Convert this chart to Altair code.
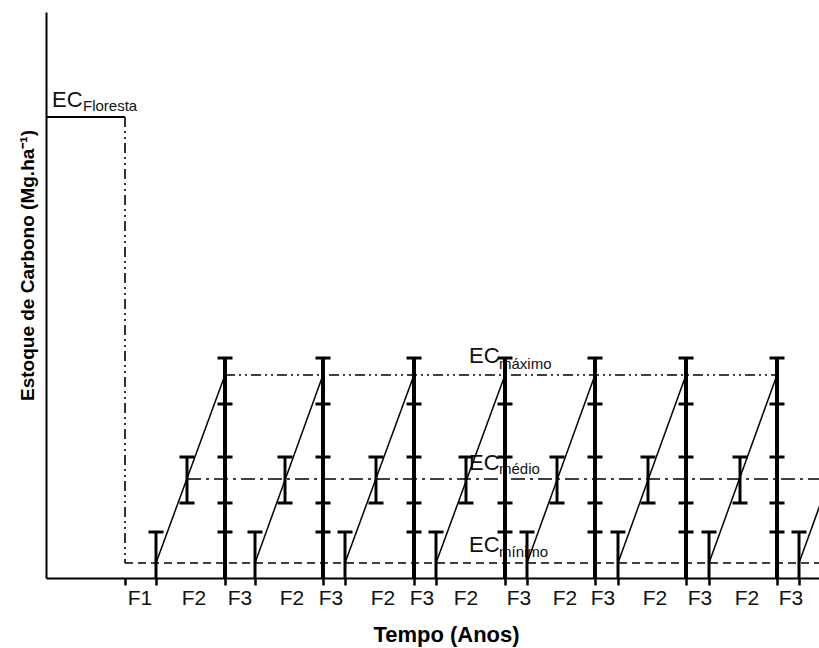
import altair as alt
import pandas as pd

# ---- values (time units on x, carbon-stock units on y)
X_MAX = 773
Y_MAX = 566
F1_X = 79
cycle_start = [110, 209, 299, 390, 481, 572, 663, 753]
cycle_peak = [179, 277, 368, 459, 549, 640, 731, 821]   # last peak lies beyond the view
f2_x = [141, 239, 330, 420, 511, 602, 694]
EC_FLORESTA = 461
EC_MAX = 203
EC_MEDIO = 99
EC_MIN = 15
err_min = [0, 46]
err_medio = [75, 121]
err_max = [174, 220]
axis_ticks = [79, 110, 179, 209, 277, 299, 368, 390, 459, 481, 549, 572, 640, 663, 731, 753]
x_label_pos = [94, 148, 194, 246, 285, 337, 376, 420, 473, 519, 557, 609, 654, 701, 745]
x_label_txt = ["F1", "F2", "F3", "F2", "F3", "F2", "F3", "F2", "F3",
               "F2", "F3", "F2", "F3", "F2", "F3"]
ec_main_x = [6, 423, 423, 423]
ec_main_y = [471, 215, 108, 26]
ec_sub_x = [37, 453, 453, 453]
ec_sub_y = [467, 209, 104, 21]
ec_sub_txt = ["Floresta", "máximo", "médio", "mínimo"]

FONT = "Liberation Sans"
INK = "#111111"

xs = alt.Scale(domain=[0, X_MAX], nice=False, zero=False)
ys = alt.Scale(domain=[0, Y_MAX], nice=False, zero=False)
xaxis = alt.Axis(values=axis_ticks, labels=False, tickSize=7, tickWidth=2.5, tickColor="black",
                 domainColor="black", domainWidth=2, grid=False,
                 title="Tempo (Anos)", titleFont=FONT, titleFontSize=22, titleFontWeight="bold",
                 titleColor="black", titleX=400, titleY=63, titleAlign="center",
                 titleBaseline="alphabetic")
yaxis = alt.Axis(ticks=False, labels=False, grid=False, domainColor="black", domainWidth=2,
                 title="Estoque de Carbono (Mg.ha⁻¹)", titleFont=FONT,
                 titleFontSize=19, titleFontWeight="bold", titleColor="black",
                 titleAngle=270, titleX=-13, titleY=253, titleAlign="center",
                 titleBaseline="alphabetic")


def X(f):
    return alt.X(f, type="quantitative", scale=xs, axis=xaxis)


def Y(f):
    return alt.Y(f, type="quantitative", scale=ys, axis=yaxis)


# ---- tables
ec_main = pd.DataFrame({"x": ec_main_x, "y": ec_main_y, "t": ["EC"] * 4})
ec_sub = pd.DataFrame({"x": ec_sub_x, "y": ec_sub_y, "t": ec_sub_txt})

levels = pd.DataFrame({
    "x": [0, F1_X, F1_X, f2_x[0], cycle_peak[0]],
    "x2": [F1_X, F1_X, X_MAX, X_MAX, cycle_peak[6]],
    "y": [EC_FLORESTA, EC_FLORESTA, EC_MIN, EC_MEDIO, EC_MAX],
    "y2": [EC_FLORESTA, EC_MIN, EC_MIN, EC_MEDIO, EC_MAX],
    "k": ["floresta", "queda", "min", "medio", "max"],
})

cycles = pd.DataFrame({"x": cycle_start, "x2": cycle_peak,
                       "y": [EC_MIN] * len(cycle_start), "y2": [EC_MAX] * len(cycle_start)})

vis_peaks = [p for p in cycle_peak if p <= X_MAX]
peaks = pd.DataFrame({"x": vis_peaks, "y": [err_min[0]] * len(vis_peaks),
                      "y2": [err_max[1]] * len(vis_peaks)})
starts = pd.DataFrame({"x": cycle_start, "y": [err_min[0]] * len(cycle_start),
                       "y2": [err_min[1]] * len(cycle_start)})
mids = pd.DataFrame({"x": f2_x, "y": [err_medio[0]] * len(f2_x),
                     "y2": [err_medio[1]] * len(f2_x)})

cap_rows = []
for p in vis_peaks:
    for v in [err_max[1], err_max[0], err_medio[1], err_medio[0], err_min[1]]:
        cap_rows.append({"x": p, "y": v})
for s in cycle_start:
    cap_rows.append({"x": s, "y": err_min[1]})
for m in f2_x:
    for v in err_medio:
        cap_rows.append({"x": m, "y": v})
caps = pd.DataFrame(cap_rows)

xlab = pd.DataFrame({"x": x_label_pos, "y": [0] * len(x_label_pos), "t": x_label_txt})

# ---- layers
t_main = alt.Chart(ec_main).mark_text(font=FONT, fontSize=22, color=INK, align="left",
                                      baseline="alphabetic").encode(x=X("x"), y=Y("y"), text="t:N")
t_sub = alt.Chart(ec_sub).mark_text(font=FONT, fontSize=15, color=INK, align="left",
                                    baseline="alphabetic").encode(x=X("x"), y=Y("y"), text="t:N")


def level(k, **kw):
    return alt.Chart(levels[levels.k == k]).mark_rule(color="black", **kw).encode(
        x=X("x"), x2="x2", y=Y("y"), y2="y2")


l_flor = level("floresta", strokeWidth=2)
l_queda = level("queda", strokeWidth=1.6, strokeDash=[10, 4, 2, 4, 2, 4])
l_min = level("min", strokeWidth=1.6, strokeDash=[8, 5])
l_med = level("medio", strokeWidth=1.6, strokeDash=[14, 5, 3, 5])
l_max = level("max", strokeWidth=1.6, strokeDash=[10, 4, 2, 4, 2, 4])

slopes = alt.Chart(cycles).mark_rule(color="black", strokeWidth=1.5, clip=True).encode(
    x=X("x"), x2="x2", y=Y("y"), y2="y2")
pk = alt.Chart(peaks).mark_rule(color="black", strokeWidth=4).encode(x=X("x"), y=Y("y"), y2="y2")
st = alt.Chart(starts).mark_rule(color="black", strokeWidth=3).encode(x=X("x"), y=Y("y"), y2="y2")
md = alt.Chart(mids).mark_rule(color="black", strokeWidth=3).encode(x=X("x"), y=Y("y"), y2="y2")
cp = alt.Chart(caps).mark_tick(color="black", orient="horizontal", size=15, thickness=3,
                               opacity=1).encode(x=X("x"), y=Y("y"))
xl = alt.Chart(xlab).mark_text(font=FONT, fontSize=21,
                               color=INK, align="center", baseline="alphabetic", dy=27).encode(
    x=X("x"), y=Y("y"), text="t:N")

chart = alt.layer(t_main, t_sub, l_flor, l_queda, l_min, l_med, l_max, slopes, pk, st, md, cp, xl).properties(
    width=773, height=566,
    padding={"left": 46, "top": 12, "right": 0, "bottom": 70},
    autosize="none",
    background="white",
).configure_view(stroke=None)

chart.save("out.html", embed_options={"renderer": "svg", "actions": False})
